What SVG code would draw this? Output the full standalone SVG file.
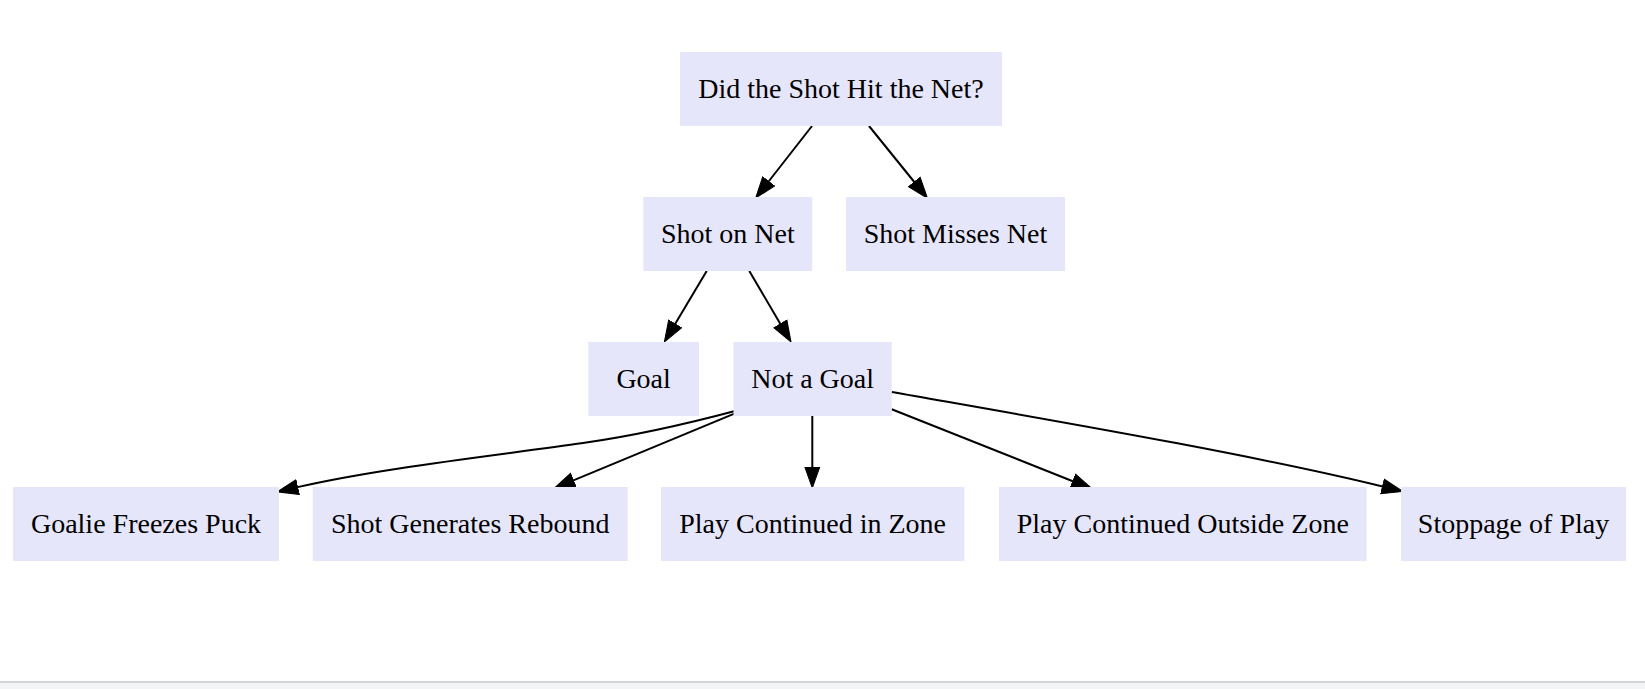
<svg xmlns="http://www.w3.org/2000/svg" width="1645" height="689" viewBox="0 0 1645 689">
  <style>
    .node rect { fill: #e6e6fa; stroke: none; }
    .node text { font-family: "Liberation Serif", "Times New Roman", serif; font-size: 28px; fill: #000; text-anchor: middle; }
    .edge { fill: none; stroke: #000; stroke-width: 2; marker-end: url(#arrow); }
  </style>
  <defs>
    <marker id="arrow" markerUnits="userSpaceOnUse" markerWidth="23" markerHeight="17" refX="0.5" refY="8" orient="auto" viewBox="0 0 23 16">
      <path d="M0.5,0.5 L21.5,8 L0.5,15.5 Z" fill="#000" stroke="#000" stroke-width="1"/>
    </marker>
  </defs>
  <rect x="0" y="0" width="1645" height="689" fill="#ffffff"/>
  <rect x="0" y="681" width="1645" height="2" fill="#d4d4d4"/>
  <rect x="0" y="683" width="1645" height="6" fill="#f3f4f6"/>

  <g id="connectors">
    <path class="edge" d="M812,126 L768.6,181.5"/>
    <path class="edge" d="M869,126 L914.3,182"/>
    <path class="edge" d="M706.7,271 L675.1,324"/>
    <path class="edge" d="M749.3,271 L780.4,323.9"/>
    <path class="edge" d="M735,411 C690,423 640,435 583,443 C500,455 380,468 297.6,487.1"/>
    <path class="edge" d="M735,413.3 L573.4,480.3"/>
    <path class="edge" d="M812.3,416 L812.3,467"/>
    <path class="edge" d="M891.7,409.3 L1072.8,481.2"/>
    <path class="edge" d="M891.7,392 C1050,420 1250,454 1382.5,486.5"/>
  </g>

  <g id="node-root" class="node">
    <rect x="680" y="52" width="322" height="74"/>
    <text x="841" y="97.5">Did the Shot Hit the Net?</text>
  </g>
  <g id="node-shot-on-net" class="node">
    <rect x="643.3" y="197" width="169" height="74"/>
    <text x="727.8" y="242.5">Shot on Net</text>
  </g>
  <g id="node-shot-misses-net" class="node">
    <rect x="846" y="197" width="219" height="74"/>
    <text x="955.5" y="242.5">Shot Misses Net</text>
  </g>
  <g id="node-goal" class="node">
    <rect x="588.3" y="342" width="110.7" height="74"/>
    <text x="643.6" y="387.5">Goal</text>
  </g>
  <g id="node-not-a-goal" class="node">
    <rect x="733.5" y="342" width="158.2" height="74"/>
    <text x="812.6" y="387.5">Not a Goal</text>
  </g>
  <g id="node-goalie-freezes-puck" class="node">
    <rect x="12.9" y="487" width="266.1" height="74"/>
    <text x="146" y="532.5">Goalie Freezes Puck</text>
  </g>
  <g id="node-shot-generates-rebound" class="node">
    <rect x="312.7" y="487" width="315" height="74"/>
    <text x="470.2" y="532.5">Shot Generates Rebound</text>
  </g>
  <g id="node-play-continued-in-zone" class="node">
    <rect x="661" y="487" width="303.3" height="74"/>
    <text x="812.6" y="532.5">Play Continued in Zone</text>
  </g>
  <g id="node-play-continued-outside-zone" class="node">
    <rect x="999" y="487" width="367.7" height="74"/>
    <text x="1182.8" y="532.5">Play Continued Outside Zone</text>
  </g>
  <g id="node-stoppage-of-play" class="node">
    <rect x="1401" y="487" width="225" height="74"/>
    <text x="1513.5" y="532.5">Stoppage of Play</text>
  </g>
</svg>
